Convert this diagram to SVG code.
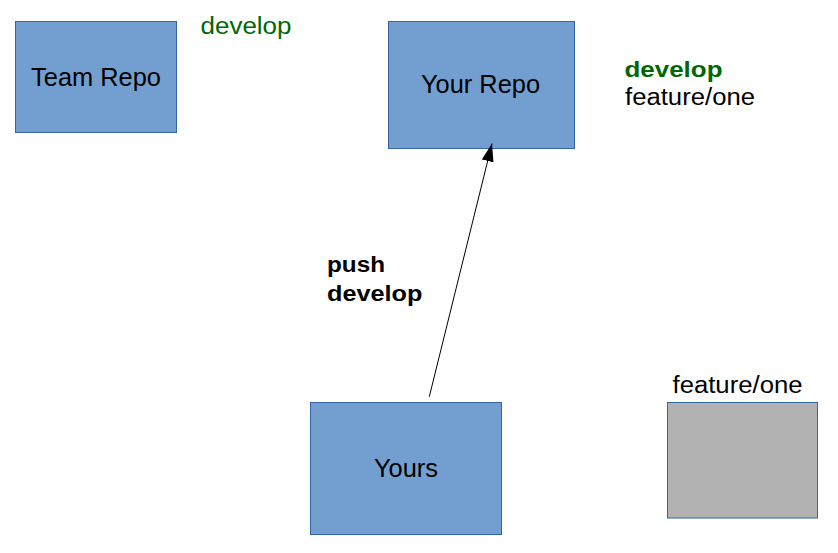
<svg xmlns="http://www.w3.org/2000/svg" width="838" height="553" viewBox="0 0 838 553">
<defs>
<style>
.box{fill:#729fcf;stroke:#3465a4;stroke-width:1}
.gray{fill:#b2b2b2;stroke:#3465a4;stroke-width:1}
text{font-family:"Liberation Sans",Arial,sans-serif;font-size:25.4px;fill:#000}
.s{font-size:23px}
.sb{font-size:22px;font-weight:bold}
.c{text-anchor:middle}
.g{fill:#006600}
.edge{stroke:#000;stroke-width:1;fill:none}
</style>
<marker id="arr" viewBox="0 0 18 12" refX="18" refY="6" markerWidth="18" markerHeight="12" markerUnits="userSpaceOnUse" orient="auto">
<path d="M0,0 L18,6 L0,12 Z" fill="#000"/>
</marker>
</defs>
<rect width="838" height="553" fill="#fff"/>
<g id="team-repo">
<rect class="box" x="15.5" y="21.5" width="161" height="111"/>
<text class="c" x="96" y="86">Team Repo</text>
</g>
<g id="team-branches">
<text class="s g" x="200.5" y="33.5" textLength="91" lengthAdjust="spacingAndGlyphs">develop</text>
</g>
<g id="your-repo">
<rect class="box" x="388.5" y="21.5" width="186" height="127"/>
<text class="c" x="480.5" y="93">Your Repo</text>
</g>
<g id="your-branches">
<text class="sb g" x="624.5" y="76.5" textLength="98" lengthAdjust="spacingAndGlyphs">develop</text>
<text class="s" x="625" y="104.5" textLength="130" lengthAdjust="spacingAndGlyphs">feature/one</text>
</g>
<g id="yours">
<rect class="box" x="310.5" y="402.5" width="191" height="132"/>
<text class="c" x="406" y="477">Yours</text>
</g>
<g id="feature-one">
<text class="s" x="672.5" y="393.3" textLength="130" lengthAdjust="spacingAndGlyphs">feature/one</text>
<rect class="gray" x="667.5" y="402.5" width="150" height="115.5"/>
</g>
<g id="connectors">
<line class="edge" x1="429.3" y1="396.7" x2="492" y2="143.5" marker-end="url(#arr)"/>
<text class="sb" x="327" y="271.8" textLength="58" lengthAdjust="spacingAndGlyphs">push</text>
<text class="sb" x="327" y="300.6" textLength="95.5" lengthAdjust="spacingAndGlyphs">develop</text>
</g>
</svg>
